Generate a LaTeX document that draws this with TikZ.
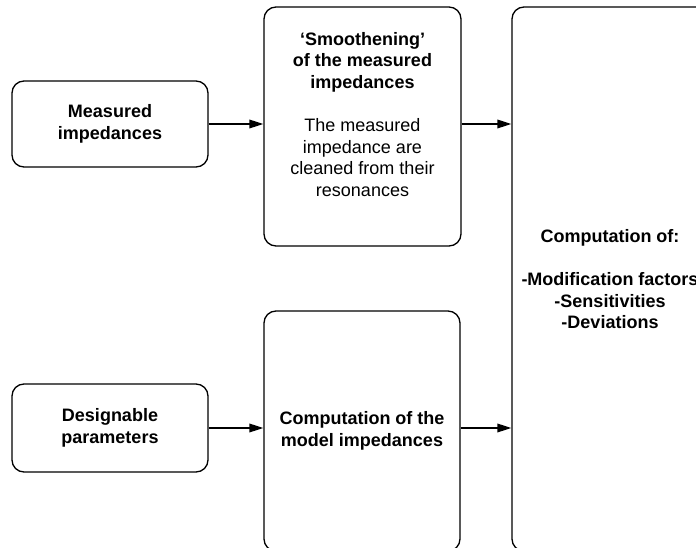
\documentclass[tikz,border=0pt]{standalone}
\usepackage{fontspec}
\setmainfont{Liberation Sans}
\usetikzlibrary{arrows.meta}
\begin{document}
\begin{tikzpicture}[x=0.75pt,y=-0.75pt,
  box/.style={draw=black, line width=1pt, rounded corners=9pt, inner sep=0pt,
    align=center, font=\fontsize{13.5pt}{16.2pt}\selectfont\bfseries},
  txt/.style={inner sep=0pt, align=center, font=\fontsize{13.5pt}{16.2pt}\selectfont},
  conn/.style={draw=black, line width=1pt, -{Triangle[length=10.5pt,width=6.5pt]}}]
\useasboundingbox (0,0) rectangle (696,548);
\node[box, minimum width=147pt, minimum height=64.5pt] (A) at (110,124) {Measured\\impedances};
\node[box, minimum width=147pt, minimum height=66pt] (B) at (110,428) {Designable\\parameters};
\node[box, minimum width=147.75pt, minimum height=179.25pt] (M) at (362.5,126.5) {};
\node[txt] (Mt) at (362.5,114.5) {\bfseries ‘Smoothening’\\\bfseries of the measured\\\bfseries impedances\\[16.2pt]The measured\\impedance are\\cleaned from their\\resonances};
\node[box, minimum width=147pt, minimum height=180pt] (C) at (362,431) {Computation of the\\model impedances};
\node[box, minimum width=147pt, minimum height=408pt] (D) at (610,279) {Computation of:\\[16.2pt]-Modification factors\\-Sensitivities\\-Deviations};
\draw[conn] (A.east) -- (A.east -| M.west);
\draw[conn] (M.east |- A.east) -- (D.west |- A.east);
\draw[conn] (B.east) -- (B.east -| C.west);
\draw[conn] (C.east |- B.east) -- (D.west |- B.east);
\end{tikzpicture}
\end{document}
